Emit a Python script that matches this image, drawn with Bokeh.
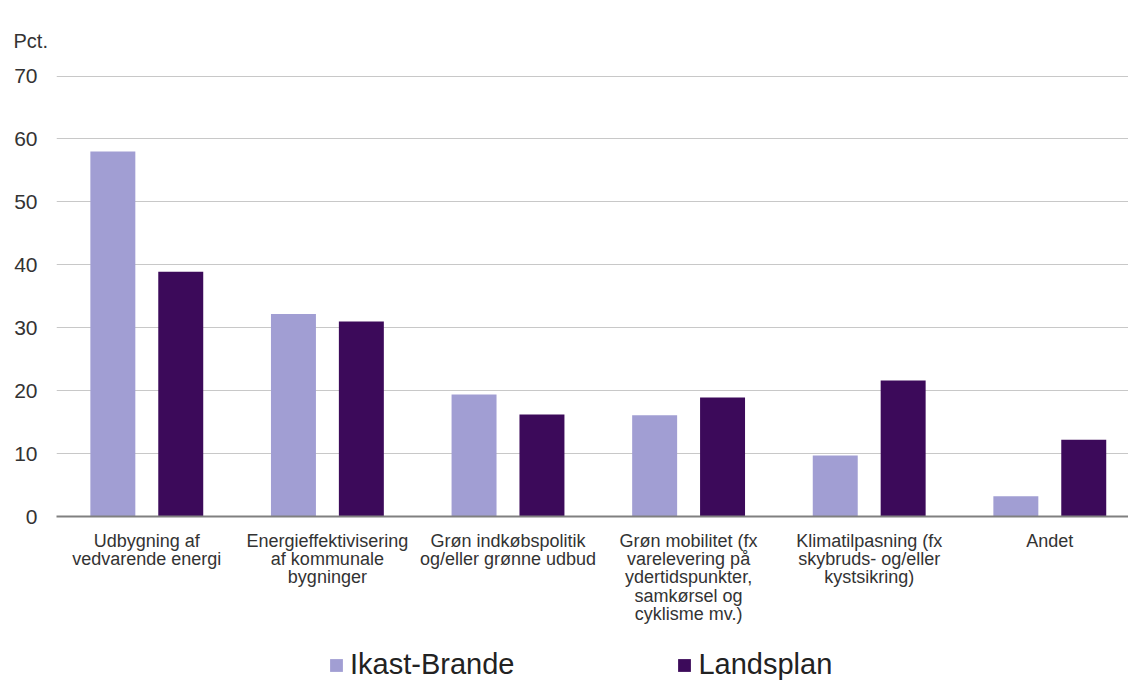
from bokeh.plotting import figure
from bokeh.models import Range1d, FixedTicker, Legend, LegendItem
from bokeh.layouts import column
from bokeh.embed import file_html
from bokeh.resources import INLINE

categories = [
    "Udbygning af\nvedvarende energi",
    "Energieffektivisering\naf kommunale\nbygninger",
    "Grøn indkøbspolitik\nog/eller grønne udbud",
    "Grøn mobilitet (fx\nvarelevering på\nydertidspunkter,\nsamkørsel og\ncyklisme mv.)",
    "Klimatilpasning (fx\nskybruds- og/eller\nkystsikring)",
    "Andet",
]
ikast_brande = [58.0, 32.2, 19.4, 16.1, 9.7, 3.2]
landsplan = [38.9, 31.0, 16.2, 18.9, 21.6, 12.2]
y_ticks = [0, 10, 20, 30, 40, 50, 60, 70]
series_names = ["Ikast-Brande", "Landsplan"]
y_unit = "Pct."

LIGHT = "#a19ed3"
DARK = "#3c0a5a"
FONT = "Liberation Sans"

n = len(categories)
centers = [i + 0.5 for i in range(n)]

W = 1128
LEFT = 56
GROUP_PX = 180.6
H_MAIN = 630
H_LEG = 51
p = figure(width=W, height=H_MAIN, output_backend="svg", toolbar_location=None,
           x_range=Range1d(0, (W - LEFT) / GROUP_PX), y_range=Range1d(0, 70.25),
           min_border_left=LEFT, min_border_right=0, min_border_top=74,
           min_border_bottom=H_MAIN - 516)
p.outline_line_color = None
p.background_fill_color = "white"
p.border_fill_color = "white"

p.title.text = y_unit
p.title.align = "left"
p.title.offset = -43
p.title.text_font = FONT
p.title.text_font_size = "20px"
p.title.text_font_style = "normal"
p.title.text_color = "#333333"
p.title.standoff = 45

p.vbar(x=[c - 0.188 for c in centers], top=ikast_brande, width=0.249,
       fill_color=LIGHT, line_color=None)
p.vbar(x=[c + 0.188 for c in centers], top=landsplan, width=0.249,
       fill_color=DARK, line_color=None)

p.xgrid.grid_line_color = None
p.ygrid.grid_line_color = "#c8c8c8"
p.ygrid.grid_line_width = 1
p.yaxis.ticker = FixedTicker(ticks=y_ticks)
p.yaxis.axis_line_color = None
p.yaxis.major_tick_line_color = None
p.yaxis.minor_tick_line_color = None
p.yaxis.major_tick_out = 0
p.yaxis.major_label_text_font = FONT
p.yaxis.major_label_text_font_size = "21px"
p.yaxis.major_label_text_color = "#333333"
p.yaxis.major_label_standoff = 19

p.xaxis.ticker = FixedTicker(ticks=centers)
p.xaxis.major_label_overrides = {c: lab for c, lab in zip(centers, categories)}
p.xaxis.axis_line_color = "#808080"
p.xaxis.axis_line_width = 2
p.xaxis.major_tick_line_color = None
p.xaxis.minor_tick_line_color = None
p.xaxis.major_tick_out = 0
p.xaxis.major_label_text_font = FONT
p.xaxis.major_label_text_font_size = "18px"
p.xaxis.major_label_text_line_height = 0.92
p.xaxis.major_label_text_color = "#333333"
p.xaxis.major_label_standoff = 14

# legend strip (its frame is aligned with the chart frame by the column layout)
lf = figure(width=W, height=H_LEG, output_backend="svg", toolbar_location=None,
            x_axis_type=None, y_axis_type=None,
            x_range=Range1d(0, 1), y_range=Range1d(0, 1),
            min_border=0, min_border_left=0, min_border_right=0,
            min_border_top=0, min_border_bottom=0)
lf.outline_line_color = None
lf.background_fill_color = "white"
lf.border_fill_color = "white"
g1 = lf.vbar(x=[0.5], top=[0], bottom=[0], width=0.001, fill_color=LIGHT, line_color=None)
g2 = lf.vbar(x=[0.5], top=[0], bottom=[0], width=0.001, fill_color=DARK, line_color=None)
legend = Legend(items=[LegendItem(label=series_names[0], renderers=[g1]),
                       LegendItem(label=series_names[1], renderers=[g2])],
                orientation="horizontal", location=(272, 0),
                label_text_font=FONT, label_text_font_size="29px", label_text_color="#222222",
                glyph_width=16, glyph_height=16, label_standoff=6, spacing=162,
                padding=0, margin=0, border_line_color=None, background_fill_alpha=0)
lf.add_layout(legend)

layout = column(p, lf, spacing=0)
open("out.html", "w").write(file_html(layout, INLINE))
